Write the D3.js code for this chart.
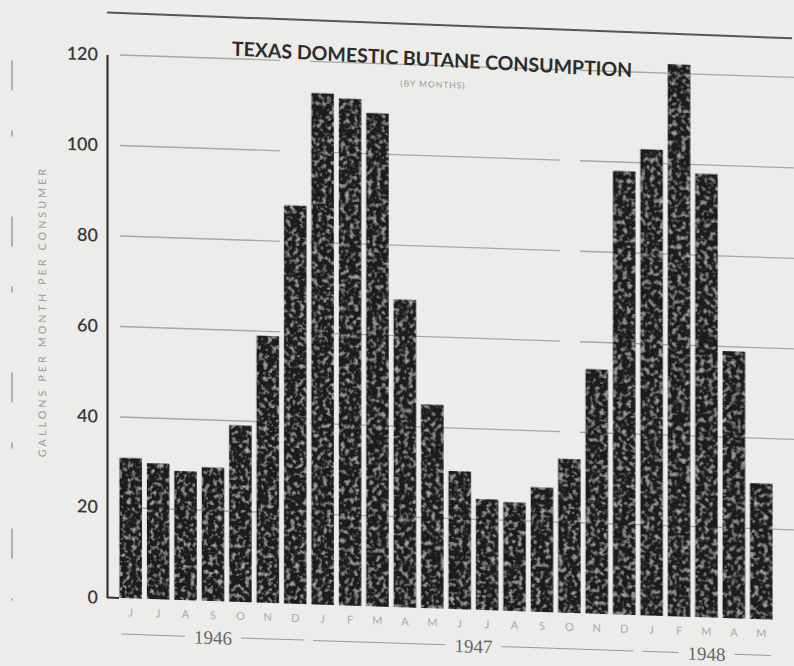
<!DOCTYPE html>
<html>
<head>
<meta charset="utf-8">
<script src="https://cdn.jsdelivr.net/npm/d3@7"></script>
<style>
  body { margin: 0; background: #ececea; }
  svg { display: block; }
</style>
</head>
<body>
<script>
// months Jun 1946 - May 1948
const months = ['J','J','A','S','O','N','D','J','F','M','A','M','J','J','A','S','O','N','D','J','F','M','A','M'];
const gallons = [31, 30, 28.5, 29.5, 39, 59, 88, 113, 112, 109, 68, 45, 30.5, 24.5, 24, 27.5, 34, 54, 98, 103, 122, 98, 59, 30];
const yTicks = [0, 20, 40, 60, 80, 100, 120];
const years = ['1946', '1947', '1948'];
const yearSpans = [[0, 6], [7, 18], [19, 23]]; // month index ranges

const W = 794, H = 666;
const skew = 1.9; // the scan is a little tilted

const svg = d3.select('body').append('svg')
  .attr('width', W)
  .attr('height', H);

const defs = svg.append('defs');
const grain = defs.append('filter').attr('id', 'grain')
  .attr('x', 0).attr('y', 0).attr('width', 1).attr('height', 1);
grain.append('feTurbulence')
  .attr('type', 'fractalNoise')
  .attr('baseFrequency', 0.22)
  .attr('numOctaves', 2)
  .attr('seed', 4)
  .attr('result', 'n');
grain.append('feColorMatrix')
  .attr('in', 'n')
  .attr('type', 'matrix')
  .attr('values', '0 0 0 0 0.5  0 0 0 0 0.5  0 0 0 0 0.5  0 0 0 -2.6 1.25')
  .attr('result', 'spots');
grain.append('feComposite')
  .attr('in', 'spots').attr('in2', 'SourceGraphic')
  .attr('operator', 'in').attr('result', 's');
const merge = grain.append('feMerge');
merge.append('feMergeNode').attr('in', 'SourceGraphic');
merge.append('feMergeNode').attr('in', 's');

const g = svg.append('g')
  .attr('transform', `skewY(${skew})`);

const x = d3.scaleBand()
  .domain(d3.range(months.length))
  .range([114, 778])
  .paddingInner(0.18)
  .paddingOuter(0.2);

const y = d3.scaleLinear()
  .domain([0, 120])
  .range([594, 51]);

// frame lines
g.append('line')
  .attr('x1', 107).attr('x2', 792)
  .attr('y1', 9).attr('y2', 12)
  .attr('stroke', '#555').attr('stroke-width', 2);
g.append('line')
  .attr('x1', 12).attr('x2', 12)
  .attr('y1', 60).attr('y2', 600)
  .attr('stroke', '#888').attr('stroke-width', 1.2)
  .attr('stroke-dasharray', '30 40 6 80');

// gridlines
g.append('g')
  .selectAll('line')
  .data(yTicks.slice(1))
  .join('line')
  .attr('x1', 120).attr('x2', W)
  .attr('y1', d => y(d)).attr('y2', d => y(d))
  .attr('stroke', '#a8a8a8')
  .attr('stroke-width', 1.3)
  .attr('stroke-dasharray', '160 30 250 20 400');

// y axis
const yAxis = g.append('g')
  .attr('transform', 'translate(107,0)')
  .call(d3.axisLeft(y).tickValues(yTicks).tickSize(0).tickPadding(9));
yAxis.select('.domain').attr('stroke', '#333').attr('stroke-width', 2.2);
yAxis.selectAll('text')
  .attr('font-family', 'Lato, sans-serif')
  .attr('font-size', 18)
  .attr('font-weight', 600)
  .attr('fill', '#3a3a3a');

g.append('line')
  .attr('x1', 107).attr('x2', 119)
  .attr('y1', y(0)).attr('y2', y(0))
  .attr('stroke', '#333').attr('stroke-width', 2);

// bars
g.append('g')
  .selectAll('rect')
  .data(gallons)
  .join('rect')
  .attr('x', (d, i) => x(i))
  .attr('y', d => y(d))
  .attr('width', x.bandwidth())
  .attr('height', d => y(0) - y(d))
  .attr('fill', '#1c1c1c')
  .attr('filter', 'url(#grain)');

// month letters
g.append('g')
  .selectAll('text')
  .data(months)
  .join('text')
  .attr('x', (d, i) => x(i) + x.bandwidth() / 2)
  .attr('y', 612)
  .attr('text-anchor', 'middle')
  .attr('font-family', 'Lato, sans-serif')
  .attr('font-size', 11)
  .attr('fill', '#aaa')
  .text(d => d);

// year spans
const yearG = g.append('g');
years.forEach((yr, k) => {
  const x0 = x(yearSpans[k][0]) + 2;
  const x1 = x(yearSpans[k][1]) + x.bandwidth() - 2;
  const cx = (x0 + x1) / 2;
  const yy = 630;
  yearG.append('line')
    .attr('x1', x0).attr('x2', cx - 28)
    .attr('y1', yy).attr('y2', yy)
    .attr('stroke', '#999').attr('stroke-width', 1);
  yearG.append('line')
    .attr('x1', cx + 28).attr('x2', x1)
    .attr('y1', yy).attr('y2', yy)
    .attr('stroke', '#999').attr('stroke-width', 1);
  yearG.append('text')
    .attr('x', cx)
    .attr('y', yy + 7)
    .attr('text-anchor', 'middle')
    .attr('font-family', '"Liberation Serif", serif')
    .attr('font-size', 19)
    .attr('fill', '#666')
    .text(yr);
});

// titles
g.append('text')
  .attr('x', 432).attr('y', 52)
  .attr('text-anchor', 'middle')
  .attr('transform', 'rotate(1.2 432 52)')
  .attr('font-family', 'Lato, sans-serif')
  .attr('font-size', 19.5)
  .attr('font-weight', 700)
  .attr('fill', '#2c2c2c')
  .text('TEXAS DOMESTIC BUTANE CONSUMPTION');
g.append('text')
  .attr('x', 433).attr('y', 73)
  .attr('text-anchor', 'middle')
  .attr('font-family', 'Lato, sans-serif')
  .attr('font-size', 8.5)
  .attr('letter-spacing', 1)
  .attr('fill', '#999')
  .text('(BY MONTHS)');

// y label
g.append('text')
  .attr('transform', 'translate(46,310) rotate(-90)')
  .attr('text-anchor', 'middle')
  .attr('font-family', 'Lato, sans-serif')
  .attr('font-size', 10.5)
  .attr('letter-spacing', 3.2)
  .attr('fill', '#999')
  .text('GALLONS PER MONTH PER CONSUMER');
</script>
</body>
</html>
